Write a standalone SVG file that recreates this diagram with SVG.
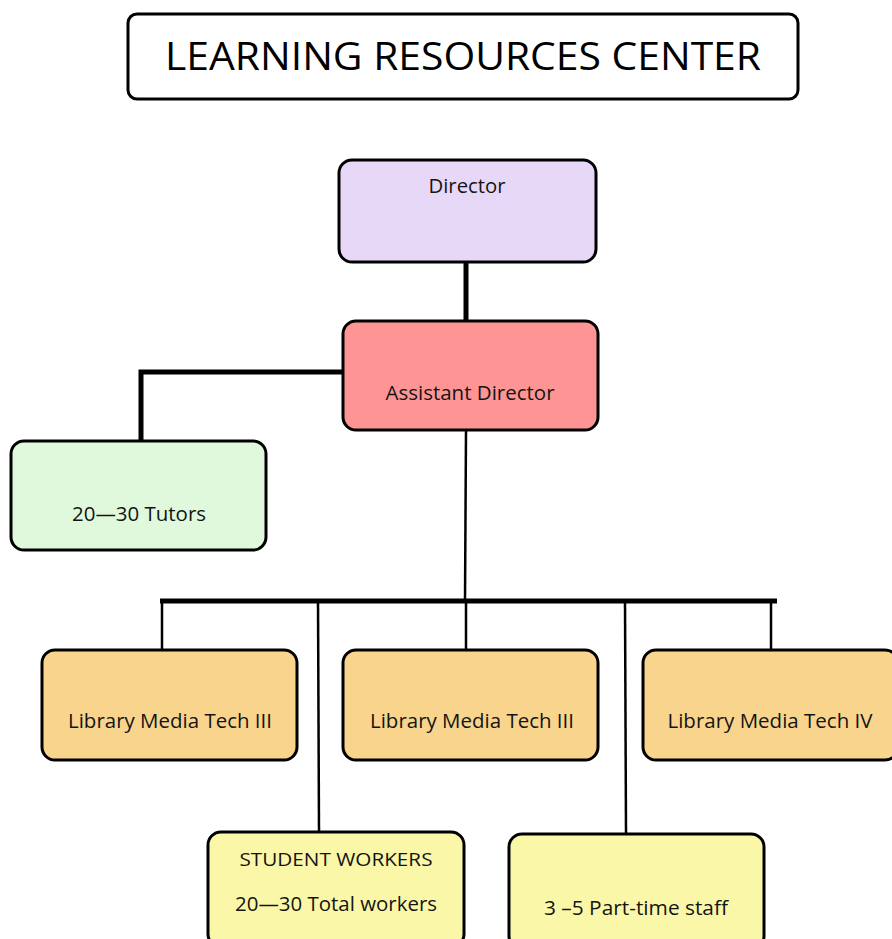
<svg xmlns="http://www.w3.org/2000/svg" width="892" height="939" viewBox="0 0 892 939">
<style>
.box{stroke:#000;stroke-width:3}
.t{font-family:"Open Sans","Noto Sans",sans-serif;font-size:19.5px;fill:#141414;text-anchor:middle}
.thick{stroke:#000;stroke-width:5;fill:none}
.thin{stroke:#000;stroke-width:2.5;fill:none}
</style>
<rect x="0" y="0" width="892" height="939" fill="#fff"/>
<g id="title">
<rect class="box" x="128" y="14" width="670" height="85" rx="9" fill="#fff"/>
<text x="463" y="70" style="font-family:'Open Sans','Noto Sans',sans-serif;font-size:39px;fill:#000;text-anchor:middle" textLength="596" lengthAdjust="spacingAndGlyphs">LEARNING RESOURCES CENTER</text>
</g>
<g id="connectors">
<line class="thick" x1="466" y1="262" x2="466" y2="321"/>
<polyline class="thick" points="343,372 141,372 141,441"/>
<line class="thin" x1="466" y1="430" x2="465" y2="601"/>
<line class="thick" x1="160" y1="601" x2="777" y2="601"/>
<line class="thin" x1="162" y1="601" x2="162" y2="650"/>
<line class="thin" x1="318" y1="601" x2="319" y2="832"/>
<line class="thin" x1="466" y1="601" x2="466" y2="650"/>
<line class="thin" x1="625" y1="601" x2="626" y2="834"/>
<line class="thin" x1="771" y1="601" x2="771" y2="650"/>
</g>
<g id="director">
<rect class="box" x="339" y="160" width="257" height="102" rx="13" fill="#E8D8F8"/>
<text class="t" x="467" y="193" textLength="77" lengthAdjust="spacingAndGlyphs">Director</text>
</g>
<g id="assistant-director">
<rect class="box" x="343" y="321" width="255" height="109" rx="13" fill="#FF9494"/>
<text class="t" x="470" y="400" textLength="169" lengthAdjust="spacingAndGlyphs">Assistant Director</text>
</g>
<g id="tutors">
<rect class="box" x="11" y="441" width="255" height="109" rx="13" fill="#E0F8DC"/>
<text class="t" x="139" y="521" textLength="134" lengthAdjust="spacingAndGlyphs">20—30 Tutors</text>
</g>
<g id="lmt1">
<rect class="box" x="42" y="650" width="255" height="110" rx="13" fill="#F9D48D"/>
<text class="t" x="170" y="728" textLength="204" lengthAdjust="spacingAndGlyphs">Library Media Tech III</text>
</g>
<g id="lmt2">
<rect class="box" x="343" y="650" width="255" height="110" rx="13" fill="#F9D48D"/>
<text class="t" x="472" y="728" textLength="204" lengthAdjust="spacingAndGlyphs">Library Media Tech III</text>
</g>
<g id="lmt3">
<rect class="box" x="643" y="650" width="255" height="110" rx="13" fill="#F9D48D"/>
<text class="t" x="770" y="728" textLength="205" lengthAdjust="spacingAndGlyphs">Library Media Tech IV</text>
</g>
<g id="student-workers">
<rect class="box" x="208" y="832" width="256" height="115" rx="13" fill="#FAF8A8"/>
<text class="t" x="336" y="866" style="font-size:18px" textLength="193" lengthAdjust="spacingAndGlyphs">STUDENT WORKERS</text>
<text class="t" x="336" y="911" textLength="202" lengthAdjust="spacingAndGlyphs">20—30 Total workers</text>
</g>
<g id="part-time">
<rect class="box" x="509" y="834" width="255" height="115" rx="13" fill="#FAF8A8"/>
<text class="t" x="636" y="915" textLength="184" lengthAdjust="spacingAndGlyphs">3 –5 Part-time staff</text>
</g>
</svg>
